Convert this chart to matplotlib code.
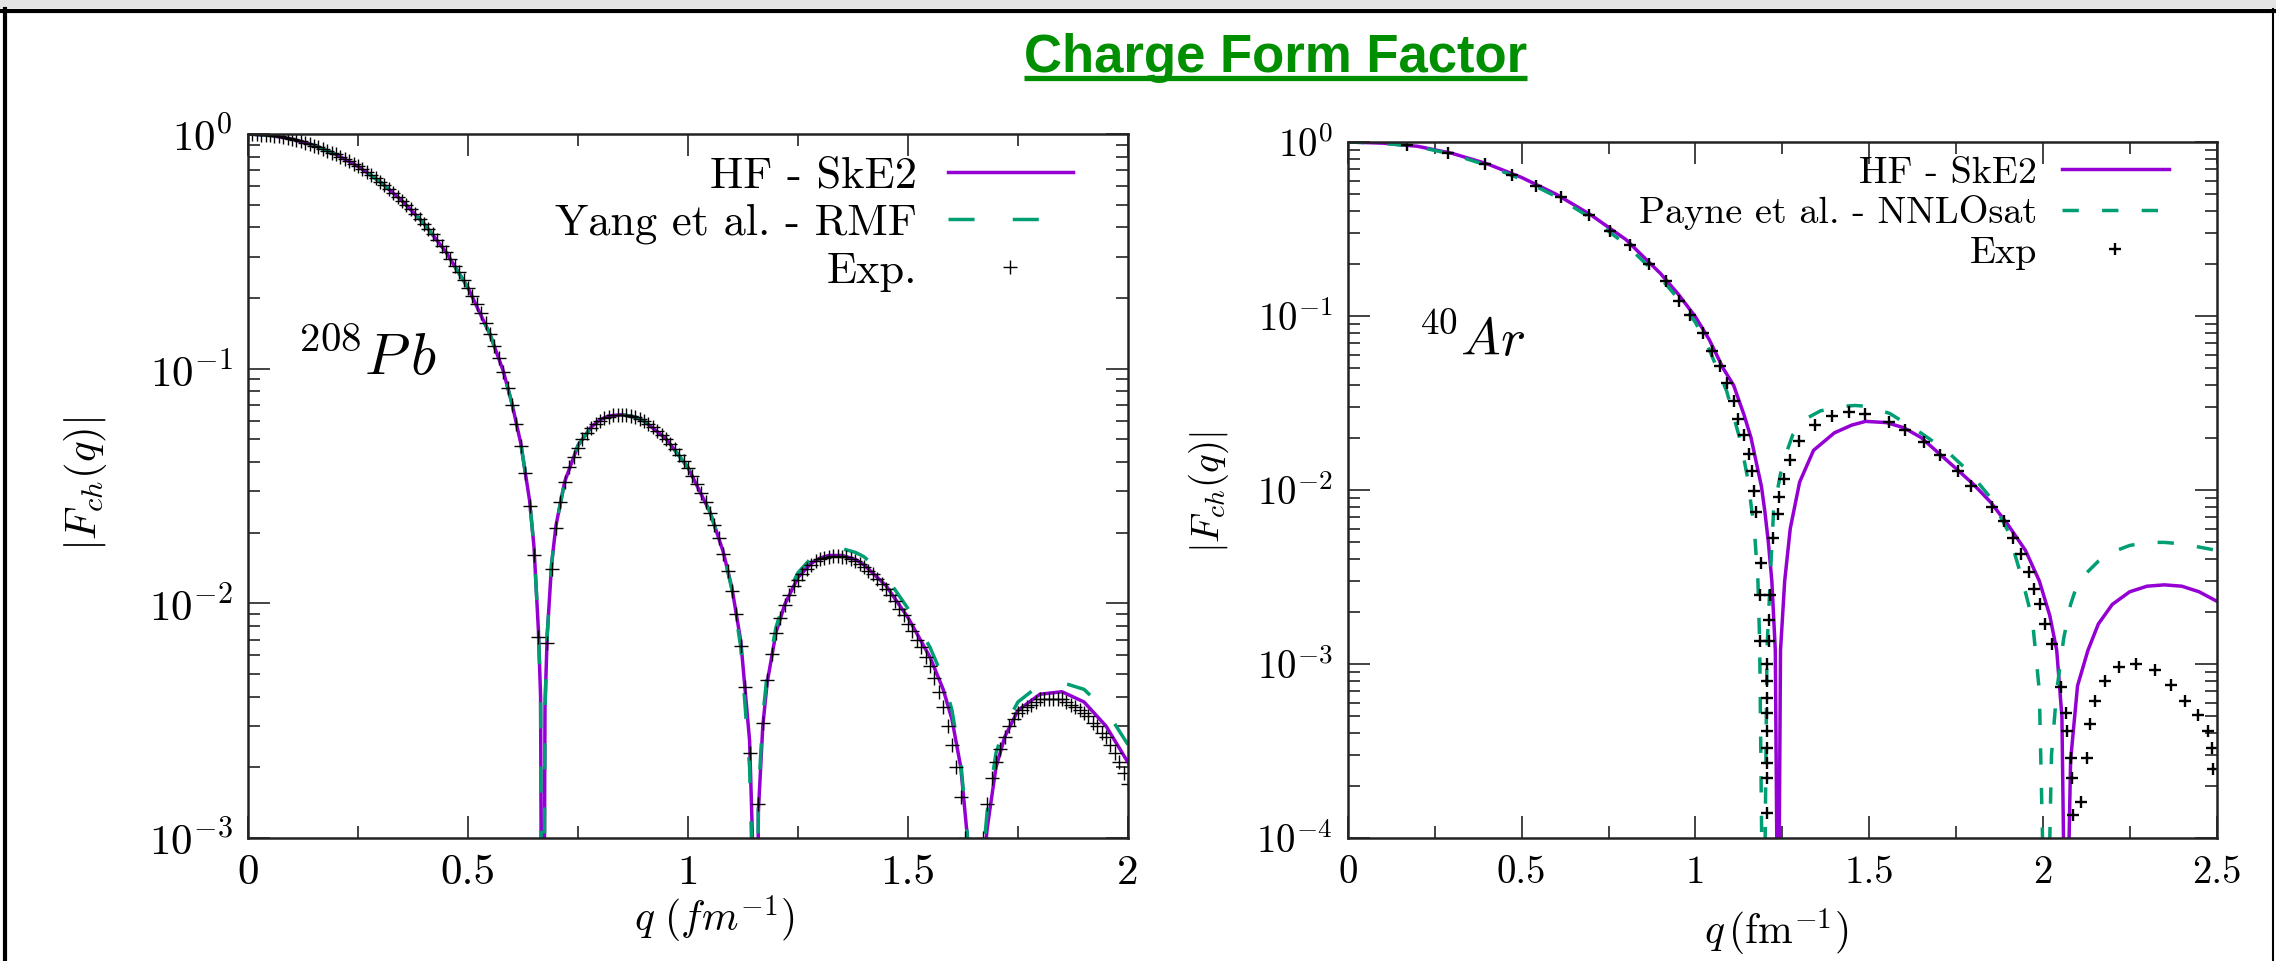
import matplotlib
matplotlib.use('Agg')
import matplotlib.pyplot as plt
from matplotlib.ticker import MultipleLocator, LogLocator, FuncFormatter, NullFormatter
from matplotlib.lines import Line2D
from matplotlib.patches import Rectangle
import numpy as np

plt.rcParams['font.family'] = 'serif'
plt.rcParams['font.serif'] = ['cmr10']
plt.rcParams['mathtext.fontset'] = 'cm'
plt.rcParams['axes.unicode_minus'] = False

PURPLE = '#9400d3'
GREEN = '#009e73'

# ---- 208Pb (left panel) ----
pb_q = [0.0, 0.05, 0.1, 0.15, 0.2, 0.25, 0.3, 0.35, 0.4, 0.45, 0.5, 0.55, 0.58, 0.6,
        0.62, 0.64, 0.65, 0.66, 0.665, 0.67, 0.675, 0.68, 0.69, 0.70, 0.72, 0.75, 0.78,
        0.80, 0.82, 0.85, 0.88, 0.90, 0.95, 1.0, 1.05, 1.08, 1.10, 1.12, 1.14, 1.15,
        1.153, 1.16, 1.17, 1.18, 1.20, 1.22, 1.25, 1.28, 1.30, 1.32, 1.35, 1.38, 1.40,
        1.45, 1.50, 1.55, 1.58, 1.60, 1.62, 1.64, 1.65, 1.655, 1.66, 1.67, 1.68, 1.70,
        1.72, 1.75, 1.80, 1.85, 1.90, 1.95, 2.0]
pb_hf = [1.0, 0.988, 0.951, 0.895, 0.818, 0.728, 0.626, 0.52, 0.415, 0.314, 0.221, 0.140,
         0.098, 0.071, 0.048, 0.0274, 0.0174, 0.0077, 0.0040, 1e-5, 0.0036, 0.0073, 0.0147,
         0.0215, 0.0331, 0.0471, 0.0564, 0.0605, 0.0629, 0.0637, 0.0622, 0.0598, 0.0503,
         0.0379, 0.0245, 0.0166, 0.0116, 0.0069, 0.0026, 0.0006, 1e-5, 0.0013, 0.0030,
         0.0046, 0.0075, 0.0099, 0.0129, 0.0148, 0.0156, 0.0160, 0.0160, 0.0154, 0.0146,
         0.0119, 0.0087, 0.0059, 0.0043, 0.0032, 0.0020, 0.0008, 0.0003, 1e-5, 0.0002,
         0.0007, 0.0011, 0.0020, 0.0027, 0.0035, 0.0041, 0.0042, 0.0038, 0.0030, 0.0021]
pb_rmf = [1.0, 0.988, 0.951, 0.895, 0.818, 0.728, 0.626, 0.52, 0.415, 0.314, 0.221, 0.140,
          0.098, 0.071, 0.048, 0.0274, 0.0174, 0.0077, 0.0040, 1e-5, 0.0036, 0.0073, 0.0147,
          0.0215, 0.0331, 0.0471, 0.0564, 0.0605, 0.0629, 0.0637, 0.0622, 0.0598, 0.0503,
          0.0379, 0.0245, 0.0166, 0.0114, 0.0065, 0.0020, 0.0004, 1e-5, 0.0015, 0.0033,
          0.0050, 0.0079, 0.0104, 0.0135, 0.0156, 0.0164, 0.0169, 0.0171, 0.0165, 0.0158,
          0.0130, 0.0095, 0.0065, 0.0048, 0.0035, 0.0021, 0.0008, 0.0003, 1e-5, 0.0002,
          0.0008, 0.0013, 0.0023, 0.0030, 0.0038, 0.0045, 0.0046, 0.0043, 0.0035, 0.0025]
pb_exp_q = [0.00, 0.01, 0.02, 0.03, 0.04, 0.05, 0.06, 0.07, 0.08, 0.09,
            0.10, 0.11, 0.12, 0.13, 0.14, 0.15, 0.16, 0.17, 0.18, 0.19,
            0.20, 0.21, 0.22, 0.23, 0.24, 0.25, 0.26, 0.27, 0.28, 0.29,
            0.30, 0.31, 0.32, 0.33, 0.34, 0.35, 0.36, 0.37, 0.38, 0.39,
            0.40, 0.41, 0.42, 0.43, 0.44, 0.45, 0.46, 0.47, 0.48, 0.49,
            0.50, 0.51, 0.52, 0.53, 0.54, 0.55, 0.56, 0.57, 0.58, 0.59,
            0.60, 0.61, 0.62, 0.63, 0.64, 0.65, 0.66, 0.67, 0.68, 0.69,
            0.70, 0.71, 0.72, 0.73, 0.74, 0.75, 0.76, 0.77, 0.78, 0.79,
            0.80, 0.81, 0.82, 0.83, 0.84, 0.85, 0.86, 0.87, 0.88, 0.89,
            0.90, 0.91, 0.92, 0.93, 0.94, 0.95, 0.96, 0.97, 0.98, 0.99,
            1.00, 1.01, 1.02, 1.03, 1.04, 1.05, 1.06, 1.07, 1.08, 1.09,
            1.10, 1.11, 1.12, 1.13, 1.14, 1.15, 1.16, 1.17, 1.18, 1.19,
            1.20, 1.21, 1.22, 1.23, 1.24, 1.25, 1.26, 1.27, 1.28, 1.29,
            1.30, 1.31, 1.32, 1.33, 1.34, 1.35, 1.36, 1.37, 1.38, 1.39,
            1.40, 1.41, 1.42, 1.43, 1.44, 1.45, 1.46, 1.47, 1.48, 1.49,
            1.50, 1.51, 1.52, 1.53, 1.54, 1.55, 1.56, 1.57, 1.58, 1.59,
            1.60, 1.61, 1.62, 1.63, 1.64, 1.65, 1.66, 1.67, 1.68, 1.69,
            1.70, 1.71, 1.72, 1.73, 1.74, 1.75, 1.76, 1.77, 1.78, 1.79,
            1.80, 1.81, 1.82, 1.83, 1.84, 1.85, 1.86, 1.87, 1.88, 1.89,
            1.90, 1.91, 1.92, 1.93, 1.94, 1.95, 1.96, 1.97, 1.98, 1.99,
            2.00]
pb_exp = [1.000, 0.9995, 0.998, 0.995, 0.992, 0.988, 0.982, 0.976, 0.969, 0.961,
          0.951, 0.941, 0.930, 0.918, 0.906, 0.893, 0.879, 0.864, 0.849, 0.834,
          0.818, 0.801, 0.784, 0.766, 0.747, 0.728, 0.709, 0.689, 0.668, 0.647,
          0.626, 0.605, 0.584, 0.563, 0.541, 0.520, 0.498, 0.477, 0.456, 0.435,
          0.415, 0.394, 0.374, 0.354, 0.334, 0.314, 0.294, 0.275, 0.257, 0.239,
          0.221, 0.204, 0.188, 0.172, 0.156, 0.140, 0.125, 0.111, 0.097, 0.083,
          0.070, 0.058, 0.047, 0.036, 0.026, 0.016, 0.0072, 0.0009, 0.0068, 0.014,
          0.021, 0.027, 0.033, 0.038, 0.042, 0.046, 0.050, 0.053, 0.056, 0.058,
          0.060, 0.0615, 0.0625, 0.0632, 0.0635, 0.0635, 0.0632, 0.0627, 0.062, 0.0609,
          0.0596, 0.058, 0.0563, 0.0544, 0.0523, 0.0501, 0.0478, 0.0454, 0.0429, 0.0403,
          0.0377, 0.0350, 0.0323, 0.0296, 0.0269, 0.0242, 0.0215, 0.0189, 0.0163, 0.0138,
          0.0113, 0.0090, 0.0066, 0.0044, 0.0023, 0.0004, 0.0014, 0.0031, 0.0047, 0.0061,
          0.0075, 0.0087, 0.0098, 0.0108, 0.0118, 0.0126, 0.0134, 0.0140, 0.0146, 0.0151,
          0.0154, 0.0156, 0.0158, 0.0159, 0.0159, 0.0158, 0.0157, 0.0154, 0.0151, 0.0147,
          0.0143, 0.0138, 0.0133, 0.0127, 0.0121, 0.0115, 0.0108, 0.0102, 0.0095, 0.0089,
          0.0082, 0.0076, 0.0070, 0.0065, 0.0059, 0.0054, 0.0048, 0.0042, 0.0036, 0.0030,
          0.0025, 0.0020, 0.0015, 0.0010, 0.0004, 0.0002, 0.0006, 0.0010, 0.0014, 0.0018,
          0.0021, 0.0024, 0.0027, 0.0030, 0.0032, 0.0034, 0.0035, 0.0036, 0.0037, 0.0038,
          0.0039, 0.0039, 0.0039, 0.0039, 0.0039, 0.0039, 0.0038, 0.0037, 0.0036, 0.0035,
          0.0034, 0.0033, 0.0031, 0.0030, 0.0028, 0.0027, 0.0025, 0.0023, 0.0021, 0.0019,
          0.0017]

# ---- 40Ar (right panel) ----
ar_q = [0.0, 0.1, 0.2, 0.3, 0.4, 0.5, 0.6, 0.7, 0.8, 0.9, 0.95, 1.0, 1.04, 1.08, 1.11,
        1.14, 1.16, 1.18, 1.19, 1.20, 1.21, 1.22, 1.23, 1.238, 1.245, 1.257, 1.273, 1.30,
        1.34, 1.40, 1.45, 1.49, 1.55, 1.60, 1.65, 1.70, 1.75, 1.80, 1.85, 1.90, 1.95,
        1.99, 2.02, 2.04, 2.055, 2.066, 2.08, 2.10, 2.13, 2.16, 2.20, 2.25, 2.30, 2.35,
        2.40, 2.45, 2.50]
ar_hf = [1.0, 0.985, 0.945, 0.86, 0.75, 0.625, 0.50, 0.38, 0.275, 0.175, 0.134, 0.099,
         0.073, 0.050, 0.040, 0.027, 0.020, 0.013, 0.0105, 0.0075, 0.0050, 0.0030, 0.0012,
         1e-5, 0.0012, 0.0030, 0.0060, 0.0111, 0.0169, 0.0213, 0.0236, 0.0248, 0.0244,
         0.0228, 0.0200, 0.0163, 0.0133, 0.0108, 0.0085, 0.0063, 0.0045, 0.0030, 0.0019,
         0.0012, 0.0005, 1e-5, 0.00028, 0.00075, 0.0012, 0.0017, 0.0022, 0.0026, 0.0028,
         0.00285, 0.0028, 0.0026, 0.0023]
ar_nn_q = [0.0, 0.1, 0.2, 0.3, 0.4, 0.5, 0.6, 0.7, 0.8, 0.9, 0.95, 1.0, 1.04, 1.09, 1.13,
           1.15, 1.17, 1.18, 1.185, 1.196, 1.206, 1.216, 1.225, 1.25, 1.28, 1.32, 1.36,
           1.42, 1.46, 1.50, 1.56, 1.65, 1.72, 1.79, 1.85, 1.90, 1.94, 1.97, 1.99, 2.01,
           2.025, 2.04, 2.06, 2.08, 2.10, 2.13, 2.16, 2.20, 2.25, 2.30, 2.35, 2.40, 2.45,
           2.50]
ar_nn = [1.0, 0.984, 0.94, 0.85, 0.735, 0.61, 0.485, 0.365, 0.258, 0.165, 0.126, 0.092,
         0.064, 0.037, 0.019, 0.0118, 0.0058, 0.0030, 0.0013, 1e-5, 0.0012, 0.0033, 0.0076,
         0.0140, 0.0207, 0.0258, 0.0285, 0.0302, 0.0306, 0.0302, 0.0275, 0.0212, 0.0170,
         0.0126, 0.0090, 0.0058, 0.0031, 0.0018, 0.0007, 1e-5, 0.0003, 0.0007, 0.0014,
         0.0022, 0.0029, 0.0034, 0.0039, 0.0044, 0.0048, 0.0050, 0.0050, 0.0049, 0.0047,
         0.0045]
ar_exp_q = [0.170, 0.288, 0.395, 0.473, 0.540, 0.613, 0.695, 0.753, 0.812, 0.866,
            0.914, 0.954, 0.983, 1.022, 1.048, 1.072, 1.091, 1.110, 1.124, 1.141,
            1.153, 1.163, 1.168, 1.173, 1.189, 1.187, 1.216, 1.211, 1.187, 1.211,
            1.206, 1.206, 1.206, 1.206, 1.206, 1.206, 1.206, 1.206, 1.206, 1.222,
            1.237, 1.241, 1.254, 1.273, 1.299, 1.343, 1.393, 1.441, 1.489, 1.556,
            1.604, 1.657, 1.705, 1.756, 1.793, 1.854, 1.888, 1.913, 1.938, 1.960,
            1.974, 1.993, 2.005, 2.027, 2.051, 2.066, 2.070, 2.080, 2.126, 2.084,
            2.110, 2.086, 2.136, 2.151, 2.178, 2.218, 2.269, 2.322, 2.370, 2.408,
            2.447, 2.476, 2.487, 2.490]
ar_exp = [0.96, 0.86, 0.75, 0.65, 0.56, 0.48, 0.38, 0.31, 0.257, 0.20,
          0.158, 0.122, 0.101, 0.0796, 0.0628, 0.0516, 0.0412, 0.0324, 0.0256, 0.0208,
          0.0161, 0.0129, 0.0099, 0.0075, 0.0038, 0.0025, 0.0025, 0.0018, 0.00136, 0.00136,
          0.0010, 0.0008, 0.00064, 0.00052, 0.00041, 0.00033, 0.00027, 0.00022, 0.00014, 0.0053,
          0.0073, 0.0091, 0.0116, 0.0148, 0.0192, 0.0236, 0.0266, 0.0279, 0.0275, 0.0247,
          0.0221, 0.0189, 0.0159, 0.0129, 0.0105, 0.0080, 0.0066, 0.0053, 0.0043, 0.0034,
          0.0027, 0.0022, 0.0017, 0.0013, 0.00074, 0.00052, 0.00041, 0.00029, 0.00029, 0.00022,
          0.00016, 0.000135, 0.00045, 0.00061, 0.00080, 0.00096, 0.00100, 0.00092, 0.00076, 0.00061,
          0.00051, 0.00041, 0.00033, 0.00025]


def log_fmt(v, pos):
    return r'$10^{%d}$' % int(round(np.log10(v)))


def style(ax, xmax, ymin, size):
    ax.set_yscale('log')
    ax.set_xlim(0, xmax)
    ax.set_ylim(ymin, 1)
    ax.xaxis.set_major_locator(MultipleLocator(0.5))
    ax.xaxis.set_minor_locator(MultipleLocator(0.25))
    ax.yaxis.set_major_locator(LogLocator(base=10, numticks=10))
    ax.yaxis.set_minor_locator(LogLocator(base=10, subs=np.arange(2, 10), numticks=10))
    ax.yaxis.set_major_formatter(FuncFormatter(log_fmt))
    ax.yaxis.set_minor_formatter(NullFormatter())
    ax.xaxis.set_major_formatter(FuncFormatter(lambda v, p: '%g' % v))
    ax.tick_params(which='both', direction='in', top=True, right=True, width=1.2,
                   labelsize=size, color='#222222')
    ax.tick_params(which='major', length=16)
    ax.tick_params(which='minor', length=8.5)
    ax.tick_params(axis='x', pad=12)
    ax.tick_params(axis='y', pad=11)
    for s in ax.spines.values():
        s.set_linewidth(1.8)
        s.set_color('#222222')


fig = plt.figure(figsize=(22.76, 9.61), dpi=100)
ax1 = fig.add_axes([0.10896, 0.12799, 0.38664, 0.73257])
ax2 = fig.add_axes([0.59227, 0.12799, 0.38159, 0.72425])

# left panel
style(ax1, 2.0, 1e-3, 31)
ax1.plot(pb_q, pb_hf, color=PURPLE, lw=2.5, label='HF - SkE2')
ax1.plot(pb_q, pb_rmf, color=GREEN, lw=2.5, dashes=(7.5, 11), label='Yang et al. - RMF')
ax1.plot(pb_exp_q, pb_exp, ls='none', marker='+', ms=9.5, mew=1.0, color='black', label='Exp.')
ax1.legend(loc='upper right', bbox_to_anchor=(0.937, 0.968), frameon=False, markerfirst=False,
           fontsize=32, handlelength=2.8, handletextpad=0.7, labelspacing=0.16,
           borderpad=0, borderaxespad=0, numpoints=1)
ax1.text(0.0557, 0.659, r'$^{208}P\,b$', transform=ax1.transAxes, fontsize=42,
         ha='left', va='baseline')
ax1.set_ylabel(r'$|F_{ch}(q)|$', fontsize=31, va='center')
ax1.yaxis.set_label_coords(-0.185, 0.503)
ax1.set_xlabel(r'$q\ (fm^{-1})$', fontsize=30, va='center')
ax1.xaxis.set_label_coords(0.53, -0.116)

# right panel
style(ax2, 2.5, 1e-4, 28)
ax2.plot(ar_q, ar_hf, color=PURPLE, lw=2.5, label='HF - SkE2')
ax2.plot(ar_nn_q, ar_nn, color=GREEN, lw=2.5, dashes=(4.7, 6.7), label='Payne et al. - NNLOsat')
ax2.plot(ar_exp_q, ar_exp, ls='none', marker='+', ms=8, mew=1.7, color='black', label='Exp')
ax2.legend(loc='upper right', bbox_to_anchor=(0.945, 0.98), frameon=False, markerfirst=False,
           fontsize=27.5, handlelength=2.8, handletextpad=0.65, labelspacing=0.15,
           borderpad=0, borderaxespad=0, numpoints=1)
ax2.text(0.0806, 0.694, r'$^{40}Ar$', transform=ax2.transAxes, fontsize=38,
         ha='left', va='baseline')
ax2.set_ylabel(r'$|F_{ch}(q)|$', fontsize=28, va='center')
ax2.yaxis.set_label_coords(-0.160, 0.497)
ax2.set_xlabel(r'$q\,(\mathrm{fm}^{-1})$', fontsize=30, va='center')
ax2.xaxis.set_label_coords(0.493, -0.135)

# title with underline
title = fig.text(0.5604, 1 - 72 / 961, 'Charge Form Factor', ha='center', va='baseline',
                 fontsize=38, fontweight='bold', color='#008f00', family='Liberation Sans')
fig.canvas.draw()
bb = title.get_window_extent().transformed(fig.transFigure.inverted())
fig.add_artist(Line2D([bb.x0, bb.x1], [1 - 78 / 961] * 2, transform=fig.transFigure,
                      color='#008f00', lw=3.8, solid_capstyle='butt'))

# slide frame
fig.add_artist(Rectangle((0, 1 - 8 / 961), 1, 8 / 961, transform=fig.transFigure,
                         color='#e4e4e4', lw=0))
fig.add_artist(Line2D([0.0, 1.0], [1 - 11 / 961] * 2, transform=fig.transFigure,
                      color='black', lw=3.0))
fig.add_artist(Line2D([4.5 / 2276] * 2, [0, 1 - 9 / 961], transform=fig.transFigure,
                      color='black', lw=3.0))
fig.add_artist(Line2D([2273 / 2276] * 2, [0, 1 - 9 / 961], transform=fig.transFigure,
                      color='black', lw=1.5))

fig.savefig('out.png', dpi=100)
